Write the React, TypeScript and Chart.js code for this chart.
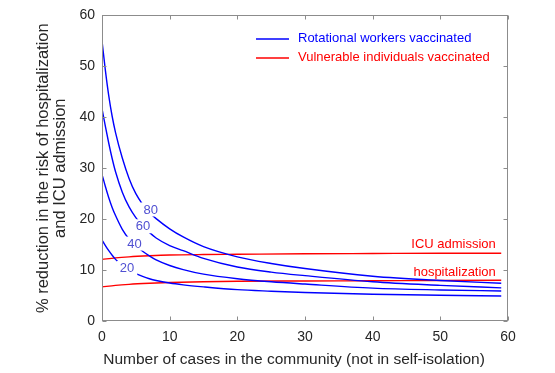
import React, { useEffect, useRef } from 'react';
import { Chart, registerables } from 'chart.js';

Chart.register(...registerables);

const FONT = "'Liberation Sans', Arial, Helvetica, sans-serif";
const TICK_COLOR = '#262626';
const AXIS_COLOR = '#8c8c8c';
const BLUE = '#0000ff';
const RED = '#ff0000';
const LABEL_BLUE = '#5050d2';

// Number of cases in the community (x) for the blue curves
const xBlue = [0, 0.5, 1, 1.5, 2, 3, 4, 5, 6, 7, 8, 10, 12, 15, 20, 25, 30, 40, 50, 59];
// % reduction, rotational workers vaccinated (contours 80, 60, 40, 20)
const rot80 = [55, 49.2, 44.2, 40.2, 37, 32, 28, 25, 22.9, 21.3, 20.1, 18.1, 16.5, 14.6, 12.6, 11.3, 10.3, 8.8, 7.95, 7.4];
const rot60 = [41.7, 38.2, 34.9, 31.9, 29.3, 25.3, 22.4, 20.3, 18.7, 17.4, 16.3, 14.8, 13.8, 12.3, 10.6, 9.6, 8.9, 7.7, 7.0, 6.5];
const rot40 = [28.8, 26.4, 24.2, 22.3, 20.7, 18.0, 16.1, 14.8, 13.7, 12.8, 12.0, 10.9, 10.1, 9.2, 8.3, 7.7, 7.25, 6.45, 6.1, 5.9];
const rot20 = [15.9, 14.8, 13.8, 12.9, 12.1, 10.9, 10.0, 9.3, 8.75, 8.3, 7.95, 7.45, 7.1, 6.7, 6.15, 5.85, 5.6, 5.25, 5.05, 4.9];

// Vulnerable individuals vaccinated
const xRed = [0, 2, 4, 7, 10, 15, 20, 30, 40, 50, 59];
const vulICU = [12.1, 12.4, 12.6, 12.8, 12.95, 13.05, 13.1, 13.2, 13.25, 13.3, 13.3];
const vulHosp = [6.7, 7.0, 7.2, 7.4, 7.55, 7.7, 7.8, 7.85, 7.9, 7.95, 8.0];

// Contour labels
const contourLabels = ['80', '60', '40', '20'];
const contourLabelX = [7.2, 6.05, 4.8, 3.7];
const contourLabelY = [21.9, 18.6, 15.2, 10.4];

// Red curve annotations (right-aligned)
const redLabels = ['ICU admission', 'hospitalization'];
const redLabelX = [58.2, 58.2];
const redLabelY = [15.1, 9.5];

// Legend
const legendLabels = ['Rotational workers vaccinated', 'Vulnerable individuals vaccinated'];
const legendColors = [BLUE, RED];

const xTicks = [0, 10, 20, 30, 40, 50, 60];
const yTicks = [0, 10, 20, 30, 40, 50, 60];

const xTitle = 'Number of cases in the community (not in self-isolation)';
const yTitle = ['% reduction in the risk of hospitalization', 'and ICU admission'];

const toPts = (xs: number[], ys: number[]) => xs.map((x, i) => ({ x, y: ys[i] }));

const decorPlugin = {
  id: 'decor',
  afterDatasetsDraw(chart: any) {
    const { ctx, chartArea: a, scales } = chart;
    const xs = scales.x;
    const ys = scales.y;
    ctx.save();

    // contour labels with white gap
    ctx.font = `13px ${FONT}`;
    ctx.textAlign = 'center';
    ctx.textBaseline = 'middle';
    contourLabels.forEach((t, i) => {
      const px = xs.getPixelForValue(contourLabelX[i]);
      const py = ys.getPixelForValue(contourLabelY[i]);
      const w = ctx.measureText(t).width;
      ctx.fillStyle = '#ffffff';
      ctx.fillRect(px - w / 2 - 3, py - 7, w + 6, 14);
      ctx.fillStyle = LABEL_BLUE;
      ctx.fillText(t, px, py + 0.5);
    });

    // red curve labels
    ctx.textAlign = 'right';
    ctx.fillStyle = RED;
    redLabels.forEach((t, i) => {
      ctx.fillText(t, xs.getPixelForValue(redLabelX[i]), ys.getPixelForValue(redLabelY[i]));
    });

    // legend
    ctx.textAlign = 'left';
    legendLabels.forEach((t, i) => {
      const yy = a.top + 23 + i * 19;
      ctx.strokeStyle = legendColors[i];
      ctx.lineWidth = 1.5;
      ctx.beginPath();
      ctx.moveTo(256, yy + 0.5);
      ctx.lineTo(289, yy + 0.5);
      ctx.stroke();
      ctx.fillStyle = legendColors[i];
      ctx.fillText(t, 298, yy + 0.5);
    });

    // frame
    ctx.strokeStyle = AXIS_COLOR;
    ctx.lineWidth = 1;
    const L = Math.round(a.left) + 0.5;
    const R = Math.round(a.right) - 0.5;
    const T = Math.round(a.top) + 0.5;
    const B = Math.round(a.bottom) - 0.5;
    ctx.strokeRect(L, T, R - L, B - T);

    // inward ticks
    const tl = 4;
    ctx.beginPath();
    xTicks.forEach((v) => {
      const px = Math.round(xs.getPixelForValue(v)) + 0.5;
      ctx.moveTo(px, B);
      ctx.lineTo(px, B - tl);
      ctx.moveTo(px, T);
      ctx.lineTo(px, T + tl);
    });
    yTicks.forEach((v) => {
      const py = Math.round(ys.getPixelForValue(v)) + 0.5;
      ctx.moveTo(L, py);
      ctx.lineTo(L + tl, py);
      ctx.moveTo(R, py);
      ctx.lineTo(R - tl, py);
    });
    ctx.stroke();

    // x axis title
    ctx.font = `15.5px ${FONT}`;
    ctx.fillStyle = TICK_COLOR;
    ctx.textAlign = 'center';
    ctx.textBaseline = 'middle';
    ctx.fillText(xTitle, 294, 360);
    ctx.restore();
  },
};

export default function App() {
  const ref = useRef<HTMLCanvasElement | null>(null);

  useEffect(() => {
    if (!ref.current) return;
    const line = (data: { x: number; y: number }[], color: string) => ({
      data,
      borderColor: color,
      backgroundColor: color,
      borderWidth: 1.4,
      pointRadius: 0,
      fill: false,
      cubicInterpolationMode: 'monotone' as const,
    });
    const chart = new Chart(ref.current, {
      type: 'line',
      data: {
        datasets: [
          line(toPts(xBlue, rot80), BLUE),
          line(toPts(xBlue, rot60), BLUE),
          line(toPts(xBlue, rot40), BLUE),
          line(toPts(xBlue, rot20), BLUE),
          line(toPts(xRed, vulICU), RED),
          line(toPts(xRed, vulHosp), RED),
        ],
      },
      options: {
        responsive: false,
        animation: false,
        parsing: false as any,
        layout: { padding: { top: 12, right: 47, left: 0, bottom: 0 } },
        plugins: { legend: { display: false }, tooltip: { enabled: false } },
        scales: {
          x: {
            type: 'linear',
            min: 0,
            max: 60,
            afterFit: (s: any) => {
              s.height = 52;
            },
            afterBuildTicks: (s: any) => {
              s.ticks = xTicks.map((v) => ({ value: v }));
            },
            ticks: { color: TICK_COLOR, font: { size: 14, family: FONT }, padding: 8, maxRotation: 0 },
            grid: { display: false, drawTicks: false },
            border: { display: false },
            title: { display: false },
          },
          y: {
            type: 'linear',
            min: 0,
            max: 60,
            afterFit: (s: any) => {
              s.width = 102;
            },
            afterBuildTicks: (s: any) => {
              s.ticks = yTicks.map((v) => ({ value: v }));
            },
            ticks: { color: TICK_COLOR, font: { size: 14, family: FONT }, padding: 7 },
            grid: { display: false, drawTicks: false },
            border: { display: false },
            title: {
              display: true,
              text: yTitle,
              color: TICK_COLOR,
              font: { size: 16.5, family: FONT, lineHeight: 1.0 },
              padding: { top: 35.5, bottom: 0 },
            },
          },
        },
      },
      plugins: [decorPlugin],
    });
    return () => chart.destroy();
  }, []);

  return (
    <div style={{ position: 'fixed', left: 0, top: 0, width: 555, height: 373, background: '#ffffff' }}>
      <canvas ref={ref} width={555} height={373} />
    </div>
  );
}
